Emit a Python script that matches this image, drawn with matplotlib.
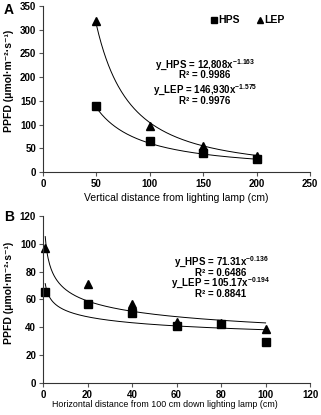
import numpy as np
import matplotlib
matplotlib.use("Agg")
import matplotlib.pyplot as plt

plt.rcParams['font.family'] = ['Liberation Sans', 'DejaVu Sans']
plt.rcParams['mathtext.fontset'] = 'custom'
plt.rcParams['mathtext.rm'] = 'Liberation Sans:bold'
plt.rcParams['mathtext.bf'] = 'Liberation Sans:bold'
plt.rcParams['mathtext.default'] = 'rm'

# Panel A: vertical distance
vert_dist = [50, 100, 150, 200]
vert_hps = [138, 65, 40, 27]
vert_lep = [318, 97, 55, 33]
vert_fit_hps = (12808, -1.163)
vert_fit_lep = (146930, -1.575)

# Panel B: horizontal distance
horiz_dist = [1, 20, 40, 60, 80, 100]
horiz_hps = [65, 57, 50, 41, 42, 29]
horiz_lep = [97, 71, 57, 44, 43, 39]
horiz_fit_hps = (71.31, -0.136)
horiz_fit_lep = (105.17, -0.194)

ylabel = "PPFD (μmol·m⁻²·s⁻¹)"

W, H = 321, 415
fig = plt.figure(figsize=(W / 100, H / 100), dpi=100)
axA = fig.add_axes([0.134, 0.5855, 0.832, 0.4005])
axB = fig.add_axes([0.134, 0.0778, 0.832, 0.4017])


def style(ax):
    for s in ['top', 'right']:
        ax.spines[s].set_visible(False)
    for s in ['left', 'bottom']:
        ax.spines[s].set_linewidth(0.8)
        ax.spines[s].set_color('#333333')
    ax.tick_params(direction='out', length=3, width=0.8, labelsize=7, pad=2, color='#555555')
    for lab in ax.get_xticklabels() + ax.get_yticklabels():
        lab.set_fontweight('bold')


def power(p, x):
    return p[0] * np.power(x, p[1])


def put(px, py, s):
    # two-line equation block; py is the baseline of the last line, in pixels from the top
    fig.text(px / W, 1 - py / H, s, ha='center', va='baseline', ma='center',
             fontsize=7.0, fontweight='bold', linespacing=0.7)


# Panel A
xs = np.linspace(50, 200, 200)
axA.plot(xs, power(vert_fit_lep, xs), color='black', lw=0.7)
axA.plot(xs, power(vert_fit_hps, xs), color='black', lw=0.7)
axA.plot(vert_dist, vert_hps, 's', color='black', ms=5.5, label='HPS', clip_on=False)
axA.plot(vert_dist, vert_lep, '^', color='black', ms=5.5, label='LEP', clip_on=False)
axA.set_xlim(0, 250)
axA.set_ylim(0, 350)
axA.set_xticks(np.arange(0, 251, 50))
axA.set_yticks(np.arange(0, 351, 50))
style(axA)
axA.set_xlabel("Vertical distance from lighting lamp (cm)", fontsize=7.5, labelpad=3)
axA.set_ylabel(ylabel, fontsize=7.5, fontweight='bold')
axA.yaxis.set_label_coords(-0.11, 0.55)
axA.legend(loc='upper right', bbox_to_anchor=(0.94, 1.0), ncol=2, frameon=False,
           handletextpad=0.0, columnspacing=1.6, handlelength=0.8, markerscale=0.8,
           prop={'weight': 'bold', 'size': 7.5})
put(205, 78.5, "y_HPS = 12,808x$^{-1.163}$\nR² = 0.9986")
put(205, 103.5, "y_LEP = 146,930x$^{-1.575}$\nR² = 0.9976")
fig.text(0.012, 0.975, "A", fontsize=10, fontweight='bold', ha='left', va='center')

# Panel B
xh = np.linspace(1, 100, 300)
axB.plot(xh, power(horiz_fit_lep, xh), color='black', lw=0.7)
axB.plot(xh, power(horiz_fit_hps, xh), color='black', lw=0.7)
axB.plot(horiz_dist, horiz_lep, '^', color='black', ms=5.5, clip_on=False)
axB.plot(horiz_dist, horiz_hps, 's', color='black', ms=5.5, clip_on=False)
axB.set_xlim(0, 120)
axB.set_ylim(0, 120)
axB.set_xticks(np.arange(0, 121, 20))
axB.set_yticks(np.arange(0, 121, 20))
style(axB)
axB.set_xlabel("Horizontal distance from 100 cm down lighting lamp (cm)", fontsize=6.4, labelpad=3)
axB.xaxis.set_label_coords(0.455, -0.105)
axB.set_ylabel(ylabel, fontsize=7.5, fontweight='bold')
axB.yaxis.set_label_coords(-0.11, 0.54)
put(221, 275.5, "y_HPS = 71.31x$^{-0.136}$\nR² = 0.6486")
put(221, 297, "y_LEP = 105.17x$^{-0.194}$\nR² = 0.8841")
fig.text(0.012, 0.478, "B", fontsize=10, fontweight='bold', ha='left', va='center')

fig.savefig("out.png", dpi=100)
